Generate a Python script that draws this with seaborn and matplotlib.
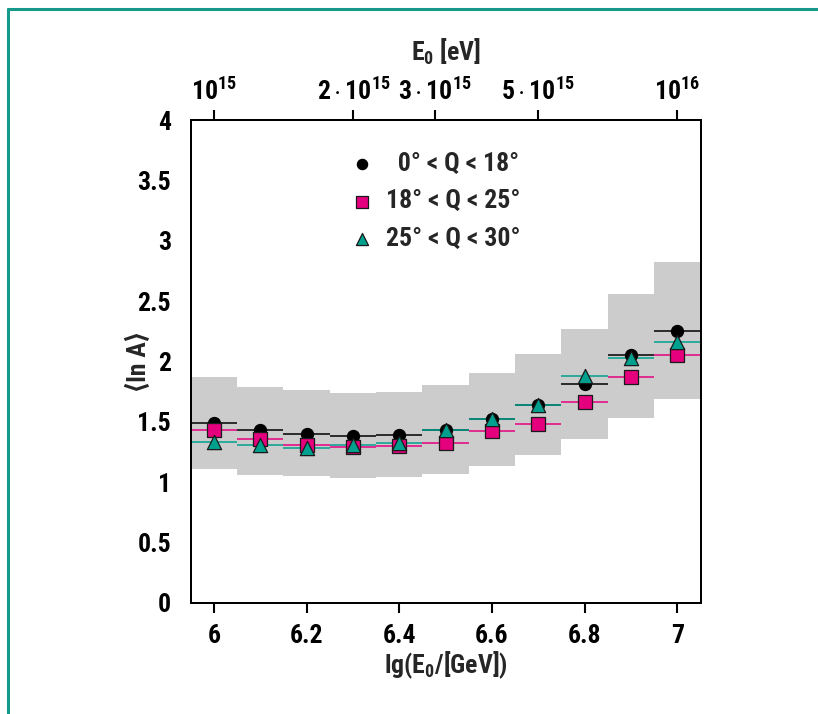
import numpy as np
import pandas as pd
import matplotlib
matplotlib.use("Agg")
import matplotlib.pyplot as plt
from matplotlib.lines import Line2D
from matplotlib import font_manager
import seaborn as sns

# ---------------- data ----------------
lgE = [6.0, 6.1, 6.2, 6.3, 6.4, 6.5, 6.6, 6.7, 6.8, 6.9, 7.0]
lnA_0_18 = [1.49, 1.43, 1.40, 1.38, 1.39, 1.43, 1.52, 1.64, 1.81, 2.05, 2.25]
lnA_18_25 = [1.43, 1.36, 1.31, 1.29, 1.30, 1.32, 1.42, 1.48, 1.66, 1.87, 2.05]
lnA_25_30 = [1.33, 1.31, 1.28, 1.31, 1.32, 1.43, 1.52, 1.64, 1.88, 2.03, 2.16]
band_low = [1.11, 1.06, 1.05, 1.03, 1.04, 1.07, 1.13, 1.22, 1.36, 1.53, 1.69]
band_high = [1.87, 1.79, 1.76, 1.74, 1.75, 1.80, 1.90, 2.06, 2.27, 2.56, 2.82]
bin_half_width = 0.05
series_labels = ["  0° < Q < 18°", "18° < Q < 25°", "25° < Q < 30°"]
top_ticks_eV = [1e15, 2e15, 3e15, 5e15, 1e16]
top_tick_labels = [r"$10^{15}$", r"$2\cdot10^{15}$", r"$3\cdot10^{15}$",
                   r"$5\cdot10^{15}$", r"$10^{16}$"]
x_ticks = [6.0, 6.2, 6.4, 6.6, 6.8, 7.0]
x_tick_labels = ["6", "6.2", "6.4", "6.6", "6.8", "7"]
y_ticks = [0, 0.5, 1, 1.5, 2, 2.5, 3, 3.5, 4]
y_tick_labels = ["0", "0.5", "1", "1.5", "2", "2.5", "3", "3.5", "4"]

# ---------------- style ----------------
sns.set_theme(style="white")
avail = {f.name for f in font_manager.fontManager.ttflist}
fam = None
for cand in ["Liberation Sans Narrow", "Roboto Condensed", "Open Sans Condensed",
             "DejaVu Sans Condensed", "Liberation Sans"]:
    if cand in avail:
        fam = cand
        break
if fam is None:
    fam = "DejaVu Sans"
plt.rcParams["font.family"] = [fam, "DejaVu Sans"]
plt.rcParams["font.weight"] = "bold"
plt.rcParams["mathtext.fontset"] = "custom"
plt.rcParams["mathtext.rm"] = f"{fam}:bold"
plt.rcParams["mathtext.it"] = f"{fam}:bold"
plt.rcParams["mathtext.bf"] = f"{fam}:bold"
plt.rcParams["mathtext.default"] = "rm"

BLACK = "#000000"
PINK = "#e5007e"
TEAL = "#00a08e"
GRAY = "#cccccc"
FS = 18.5

fig = plt.figure(figsize=(8.18, 7.14), dpi=100)
ax = fig.add_axes([0.2331, 0.1559, 0.6233, 0.6760])

# frame around figure
fig.add_artist(Line2D([7.5 / 818, 7.5 / 818], [1 - 8.5 / 714, -0.1], transform=fig.transFigure,
                      color="#14998a", lw=2.2))
fig.add_artist(Line2D([7.5 / 818, 1.1], [1 - 8.5 / 714, 1 - 8.5 / 714], transform=fig.transFigure,
                      color="#14998a", lw=2.2))

x = np.array(lgE)
edges = np.append(x - bin_half_width, x[-1] + bin_half_width)
ax.stairs(band_high, edges, baseline=band_low, fill=True, color=GRAY, lw=0, zorder=1)

df = pd.DataFrame({
    "lgE": np.tile(x, 3),
    "lnA": np.concatenate([lnA_0_18, lnA_18_25, lnA_25_30]),
    "group": np.repeat(series_labels, len(x)),
})
colors = [BLACK, PINK, TEAL]
markers = ["o", "s", "^"]
sizes = [75, 90, 105]

for lab, col in zip(series_labels, colors):
    sub = df[df.group == lab]
    ax.errorbar(sub.lgE, sub.lnA, xerr=bin_half_width, fmt="none", ecolor=col,
                elinewidth=1.1, capsize=0, zorder=2)

for i, (lab, col, mk, sz) in enumerate(zip(series_labels, colors, markers, sizes)):
    sub = df[df.group == lab]
    sns.scatterplot(data=sub, x="lgE", y="lnA", ax=ax, color=col, marker=mk, s=sz,
                    edgecolor="#1a1a1a" if i else BLACK, linewidth=0.9, zorder=3 + i,
                    label=lab, legend=True)

ax.set_xlim(5.95, 7.05)
ax.set_ylim(0, 4)
ax.set_xticks(x_ticks)
ax.set_xticklabels(x_tick_labels)
ax.set_yticks(y_ticks)
ax.set_yticklabels(y_tick_labels)
ax.tick_params(axis="both", which="major", direction="out", length=7, width=1.5,
               labelsize=FS, color="black", labelcolor="black")
ax.tick_params(axis="x", pad=8)
ax.tick_params(axis="y", pad=7)
for lbl in ax.get_xticklabels() + ax.get_yticklabels():
    lbl.set_fontweight("bold")
for sp in ax.spines.values():
    sp.set_visible(True)
    sp.set_color("black")
    sp.set_linewidth(1.4)

ax.set_xlabel(r"lg(E$_{0}$/[GeV])", fontsize=FS, fontweight="bold", labelpad=1.5)
ax.set_ylabel("⟨ln A⟩", fontsize=FS, fontweight="bold", labelpad=-10,
              family=[fam, "DejaVu Sans"])

ax2 = ax.twiny()
ax2.set_xlim(ax.get_xlim())
ax2.set_xticks(np.log10(top_ticks_eV) - 9)
ax2.set_xticklabels(top_tick_labels)
ax2.tick_params(axis="x", direction="out", length=7, width=1.5, labelsize=FS, pad=4,
                color="black", labelcolor="black")
ax2.set_xlabel(r"E$_{0}$ [eV]", fontsize=FS, fontweight="bold", labelpad=12)
for sp in ax2.spines.values():
    sp.set_linewidth(1.4)
    sp.set_color("black")

leg = ax.legend(loc="upper left", bbox_to_anchor=(0.29, 0.955), frameon=False,
                fontsize=FS, handletextpad=0.45, labelspacing=0.52, borderaxespad=0,
                handlelength=1.0, markerscale=0.85)
for t in leg.get_texts():
    t.set_fontweight("bold")

fig.savefig("out.png", dpi=100)
